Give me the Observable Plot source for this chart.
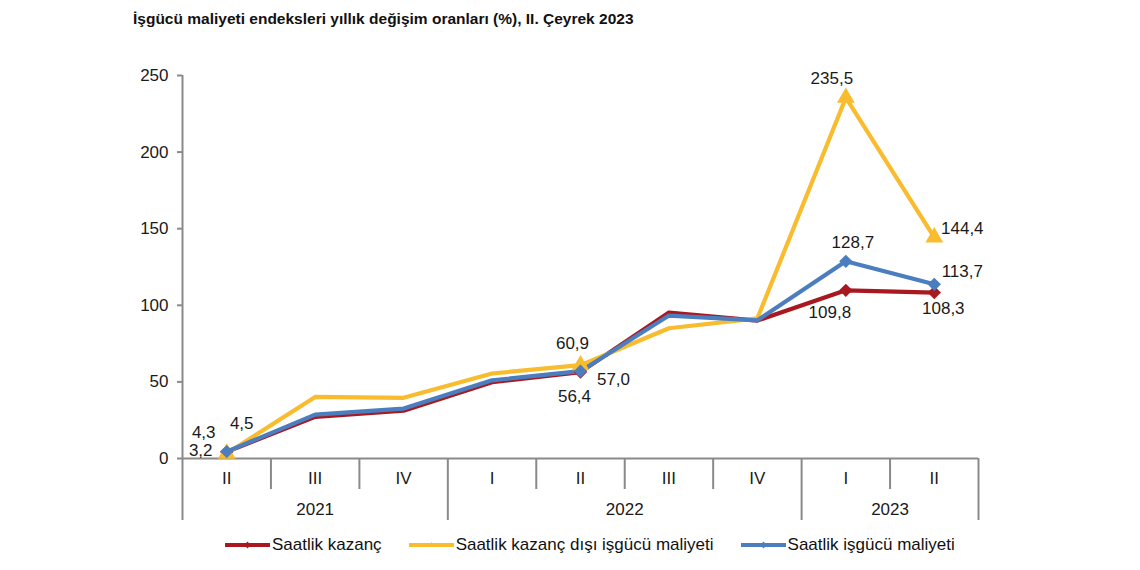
<!DOCTYPE html>
<html><head><meta charset="utf-8">
<script src="https://cdn.jsdelivr.net/npm/d3@7"></script>
<script src="https://cdn.jsdelivr.net/npm/@observablehq/plot@0.6"></script>
<style>
body{margin:0;background:#fff;font-family:"Liberation Sans",Arial,sans-serif;}
#wrap{position:relative;width:1140px;height:570px;overflow:hidden;}
#title{position:absolute;left:133px;top:10px;font-size:15.5px;font-weight:bold;color:#111;white-space:nowrap;}
#chart{position:absolute;left:0;top:40px;}
#legend{position:absolute;left:225px;top:535px;height:20px;display:flex;align-items:center;font-size:17px;color:#111;white-space:nowrap;}
.item{display:flex;align-items:center;margin-right:27px;}
.item svg{margin-right:2px;}
</style></head><body>
<div id="wrap">
<div id="title">İşgücü maliyeti endeksleri yıllık değişim oranları (%), II. Çeyrek 2023</div>
<div id="chart"></div>
<div id="legend"></div>
</div>
<script>
// ---- data ----
const quarters = ["II", "III", "IV", "I", "II", "III", "IV", "I", "II"];
const years = ["2021", "2021", "2021", "2022", "2022", "2022", "2022", "2023", "2023"];
const seriesNames = ["Saatlik kazanç", "Saatlik kazanç dışı işgücü maliyeti", "Saatlik işgücü maliyeti"];
const kazanc = [4.3, 27.2, 31.2, 49.8, 56.4, 95.3, 90.0, 109.8, 108.3];
const kazancDisi = [3.2, 40.2, 39.6, 55.5, 60.9, 85.0, 91.5, 235.5, 144.4];
const isgucu = [4.5, 28.6, 32.6, 51.0, 57.0, 93.3, 90.2, 128.7, 113.7];
const labeledIdx = [0, 4, 7, 8];
const yTicks = [0, 50, 100, 150, 200, 250];

// ---- styling ----
const colors = ["#A8181E", "#F9BC2F", "#4B7EBF"];
const symbols = ["diamond2", "triangle", "diamond2"];
const symbolR = [6, 6.6, 6];
const axisColor = "#8a8a8a";
const textColor = "#1a1a1a";
const seriesValues = [kazanc, kazancDisi, isgucu];

// label offsets (px) keyed "series-index"
const labelOffsets = {
  "0-0": [-23, -19], "1-0": [-26, -3], "2-0": [15, -28],
  "0-4": [-6, 24], "1-4": [-8, -22], "2-4": [33, 8],
  "0-7": [-16, 22], "1-7": [-14, -19], "2-7": [7, -19],
  "0-8": [9, 16], "1-8": [28, -9], "2-8": [28, -13]
};

const rows = seriesValues.flatMap((vals, s) => vals.map((v, i) => ({series: seriesNames[s], s, i, x: i + 0.5, v})));
const fmt = v => v.toFixed(1).replace(".", ",");

// year groups
const yearGroups = Array.from(d3.group(years.map((y, i) => ({y, i})), d => d.y), ([y, arr]) => ({year: y, x: d3.mean(arr, d => d.i) + 0.5, start: arr[0].i, end: arr[arr.length - 1].i + 1}));
const yearSeps = Array.from(new Set(yearGroups.flatMap(g => [g.start, g.end])));
const quarterSeps = d3.range(1, quarters.length).filter(k => !yearSeps.includes(k));

const marks = [
  Plot.ruleY([0], {stroke: axisColor, strokeWidth: 2}),
  Plot.ruleX([0], {stroke: axisColor, strokeWidth: 2}),
  Plot.axisY({ticks: yTicks, tickSize: 5, tickPadding: 9, stroke: axisColor, strokeWidth: 2, fill: textColor, fontSize: 17, tickFormat: d => String(d)}),
  Plot.axisX(quarterSeps, {tickSize: 31, tickFormat: () => "", stroke: axisColor, strokeWidth: 2}),
  Plot.axisX(yearSeps, {tickSize: 62, tickFormat: () => "", stroke: axisColor, strokeWidth: 2}),
  Plot.text(quarters, {x: (d, i) => i + 0.5, y: () => 0, dy: 20, fontSize: 17, fill: textColor}),
  Plot.text(yearGroups, {x: "x", y: () => 0, text: "year", dy: 51, fontSize: 17, fill: textColor})
];

seriesNames.forEach((name, s) => {
  marks.push(Plot.line(rows.filter(d => d.s === s), {x: "x", y: "v", stroke: colors[s], strokeWidth: 4.2, strokeLinejoin: "round"}));
});
seriesNames.forEach((name, s) => {
  marks.push(Plot.dot(rows.filter(d => d.s === s && labeledIdx.includes(d.i)), {x: "x", y: "v", fill: colors[s], symbol: symbols[s], r: symbolR[s]}));
});
rows.filter(d => labeledIdx.includes(d.i)).forEach(d => {
  const [dx, dy] = labelOffsets[d.s + "-" + d.i];
  marks.push(Plot.text([d], {x: "x", y: "v", text: dd => fmt(dd.v), dx, dy, fontSize: 17, fill: textColor}));
});

const chart = Plot.plot({
  width: 1140,
  height: 490,
  marginTop: 35,
  marginBottom: 72,
  marginLeft: 182,
  marginRight: 162,
  style: {fontFamily: "'Liberation Sans', Arial, sans-serif", fontSize: "17px", background: "#fff", color: textColor},
  x: {type: "linear", domain: [0, quarters.length], label: null},
  y: {domain: [0, 250], label: null},
  marks
});
document.getElementById("chart").appendChild(chart);

// legend
const legend = document.getElementById("legend");
seriesNames.forEach((name, s) => {
  const item = document.createElement("div");
  item.className = "item";
  const sym = s === 1
    ? `<path d="M22.5,3 L26,8 L19,8 Z" fill="${colors[s]}"/>`
    : `<path d="M22.5,2.5 L25.5,6 L22.5,9.5 L19.5,6 Z" fill="${colors[s]}"/>`;
  item.innerHTML = `<svg width="45" height="12"><line x1="0" y1="6" x2="45" y2="6" stroke="${colors[s]}" stroke-width="4" stroke-linecap="round"/>${sym}</svg><span>${name}</span>`;
  legend.appendChild(item);
});
</script>
</body></html>
